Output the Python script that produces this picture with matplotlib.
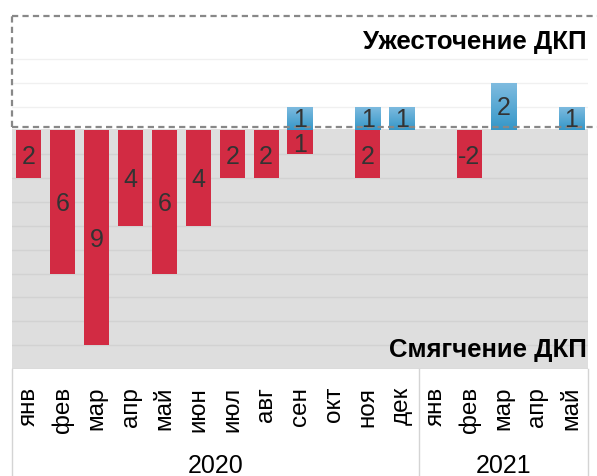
import numpy as np
import matplotlib
matplotlib.use("Agg")
import matplotlib.pyplot as plt
import matplotlib.transforms as mtransforms
from matplotlib.colors import LinearSegmentedColormap

plt.rcParams["font.family"] = ["Liberation Sans", "DejaVu Sans"]

months = ["янв", "фев", "мар", "апр", "май", "июн", "июл", "авг", "сен", "окт", "ноя", "дек",
          "янв", "фев", "мар", "апр", "май"]
years = ["2020", "2021"]
year_len = [12, 5]

# смягчение (вниз) и ужесточение (вверх), число решений
ease = [2, 6, 9, 4, 6, 4, 2, 2, 1, 0, 2, 0, 0, 2, 0, 0, 0]
ease_labels = ["2", "6", "9", "4", "6", "4", "2", "2", "1", "", "2", "", "", "-2", "", "", ""]
tighten = [0, 0, 0, 0, 0, 0, 0, 0, 1, 0, 1, 1, 0, 0, 2, 0, 1]
tighten_labels = ["", "", "", "", "", "", "", "", "1", "", "1", "1", "", "", "2", "", "1"]

RED = "#d22b43"
GREY_BG = "#dedede"
TXT = "#333333"

fig = plt.figure(figsize=(5.97, 4.77), dpi=100)
ax = fig.add_axes([12 / 597, 1 - 370 / 477, 576 / 597, 353 / 477])
for s in ax.spines.values():
    s.set_visible(False)
ax.set_xticks([])
ax.set_yticks([])

x = np.arange(len(months))
ymin, ymax = -10, 4.80

# фон и сетка
ax.axhspan(ymin, 0.08, color=GREY_BG, zorder=0, lw=0)
for v in [1, 2, 3]:
    ax.axhline(v, color="#f0f0f0", lw=1, zorder=0.5)
for v in range(-1, -11, -1):
    ax.axhline(v, color="#d2d2d2", lw=1, zorder=0.5)

# бары
ax.bar(x, [-v for v in ease], width=0.74, color=RED, zorder=2)
blue = ax.bar(x, tighten, width=0.74, color="#4aa6d2", zorder=2)

cmap = LinearSegmentedColormap.from_list("bl", ["#3597c8", "#80bce0"])
grad = np.linspace(0, 1, 64).reshape(-1, 1)
for p, v in zip(blue.patches, tighten):
    if v == 0:
        continue
    x0, y0 = p.get_x(), p.get_y()
    im = ax.imshow(grad, extent=[x0, x0 + p.get_width(), y0, y0 + p.get_height()],
                   origin="lower", cmap=cmap, aspect="auto", zorder=2.5)
    im.set_clip_path(p)

for i in x:
    if ease_labels[i]:
        ax.text(i, -ease[i] / 2 - 0.05, ease_labels[i], ha="center", va="center",
                fontsize=18, color=TXT, zorder=4)
    if tighten_labels[i]:
        ax.text(i, tighten[i] / 2, tighten_labels[i], ha="center", va="center",
                fontsize=18, color=TXT, zorder=4)

ax.set_xlim(-0.5, 16.5)
ax.set_ylim(ymin, ymax)

# пунктирная рамка
dash = dict(color="#888888", lw=1.6, ls=(0, (2.8, 1.9)), clip_on=False, zorder=3)
ax.plot([-0.5, 16.8], [0.14, 0.14], **dash)
ax.plot([-0.5, 16.8], [ymax, ymax], **dash)
ax.plot([-0.5, -0.5], [0.14, ymax], **dash)

ax.text(16.47, 3.75, "Ужесточение ДКП", ha="right", va="center",
        fontsize=18.5, fontweight="bold", color="black")
ax.text(16.47, -9.16, "Смягчение ДКП", ha="right", va="center",
        fontsize=18.5, fontweight="bold", color="black")

# подписи оси
tr = mtransforms.blended_transform_factory(ax.transData, fig.transFigure)
for i, m in enumerate(months):
    ax.text(i, 1 - 387 / 477, m, rotation=90, ha="center", va="top",
            fontsize=17.5, color="black", transform=tr)

start = 0
seps = [-0.5]
for yr, n in zip(years, year_len):
    ax.text(start + (n - 1) / 2, 1 - 466 / 477, yr, ha="center", va="center",
            fontsize=18, color="black", transform=tr)
    start += n
    seps.append(start - 0.5)
for s in seps:
    ax.plot([s, s], [0, 1 - 370 / 477], color="#d4d4d4", lw=1, transform=tr, clip_on=False)

fig.savefig("out.png", dpi=100)
